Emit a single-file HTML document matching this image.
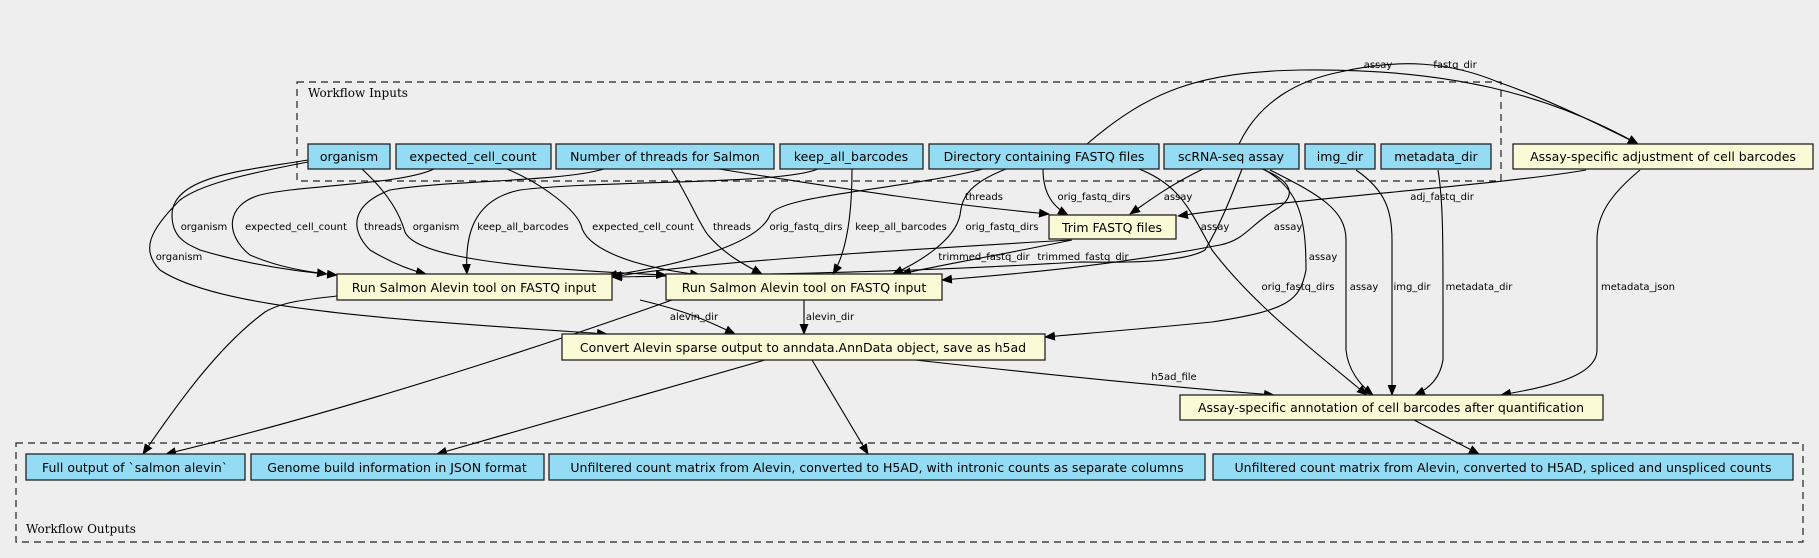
<!DOCTYPE html>
<html><head><meta charset="utf-8"><style>
html,body{margin:0;padding:0;background:#eeeeee;}
svg{display:block;}
text{font-family:"DejaVu Sans","Liberation Sans",sans-serif;}
.n{font-size:12.5px;text-anchor:middle;}
.l{font-size:10px;text-anchor:middle;}
.e{fill:none;stroke:#000;stroke-width:1.1;}
.b{fill:#94dcf4;stroke:#222;stroke-width:1.3;}
.y{fill:#fafad6;stroke:#222;stroke-width:1.3;}
</style></head><body>
<svg width="1819" height="558" viewBox="0 0 1819 558" xmlns="http://www.w3.org/2000/svg">
<defs><marker id="a" markerWidth="11" markerHeight="9" refX="10" refY="4.5" orient="auto" markerUnits="userSpaceOnUse"><path d="M0,0 L11,4.5 L0,9 z" fill="#000"/></marker></defs>
<rect x="0" y="0" width="1819" height="558" fill="#eeeeee"/>
<rect x="297" y="82" width="1204" height="99" fill="none" stroke="#222" stroke-width="1.2" stroke-dasharray="7,5"/>
<text x="308" y="97" style="font-family:'DejaVu Serif','Liberation Serif',serif;font-size:12px">Workflow Inputs</text>
<rect x="16" y="443" width="1787" height="99" fill="none" stroke="#222" stroke-width="1.2" stroke-dasharray="7,5"/>
<text x="26" y="533" style="font-family:'DejaVu Serif','Liberation Serif',serif;font-size:12px">Workflow Outputs</text>

<g class="e" marker-end="url(#a)">
<!-- organism -->
<path d="M308,160 C250,170 172,175 172,215 C172,240 190,245 200,250 C250,265 300,272 337,275"/>
<path d="M308,162 C240,175 200,185 180,200 C150,230 140,250 160,270 C220,310 400,320 607,334"/>
<path d="M362,169 C390,195 400,215 405,232 C415,255 500,268 666,275"/>
<!-- expected -->
<path d="M434,169 C400,185 300,185 260,195 C225,205 225,235 250,255 C280,268 310,272 327,274"/>
<path d="M507,169 C545,185 575,210 581,225 C585,245 620,265 700,275"/>
<!-- threads -->
<path d="M604,169 C560,182 450,180 390,190 C350,205 350,230 370,250 C390,262 410,270 426,274"/>
<path d="M671,169 C690,200 700,225 708,235 C725,255 745,265 762,274"/>
<path d="M719,169 C850,190 950,205 1049,214"/>
<!-- keep_all -->
<path d="M818,169 C780,185 600,180 520,190 C470,200 465,240 467,274"/>
<path d="M852,169 C852,210 848,250 833,274"/>
<!-- Dir -->
<path d="M983,169 C900,190 780,195 770,215 C760,240 700,262 607,276"/>
<path d="M1006,169 C965,185 962,200 960,215 C955,240 920,262 893,274"/>
<path d="M1043,169 C1043,190 1050,205 1068,215"/>
<path d="M1139,169 C1180,185 1190,210 1212,250 C1250,300 1300,340 1367,395"/>
<path d="M1087,144 C1150,90 1200,72 1300,70 C1450,68 1550,95 1638,144"/>
<!-- scRNA -->
<path d="M1239,144 C1260,100 1300,80 1340,72 C1400,58 1450,62 1498,82 C1550,100 1600,125 1638,144"/>
<path d="M1203,169 C1170,185 1150,200 1130,214"/>
<path d="M1242,169 C1230,200 1220,225 1205,250 C1180,265 1100,262 1080,262 C1020,265 940,272 612,277"/>
<path d="M1262,169 C1290,180 1300,195 1275,210 C1250,225 1245,240 1220,245 C1100,268 1000,275 942,280"/>
<path d="M1265,170 C1300,190 1306,220 1306,270 C1300,300 1290,310 1212,322 C1130,330 1090,333 1045,337"/>
<path d="M1270,170 C1320,195 1346,210 1346,240 L1346,350 C1348,370 1360,385 1373,395"/>
<!-- img/metadata/adj -->
<path d="M1356,170 C1385,190 1392,210 1392,240 L1392,395"/>
<path d="M1438,170 C1443,200 1443,240 1443,300 L1443,360 C1440,378 1430,388 1415,395"/>
<path d="M1640,170 C1610,195 1597,215 1597,240 L1597,350 C1597,378 1540,388 1501,395"/>
<path d="M1586,170 C1500,185 1300,198 1178,216"/>
<!-- Trim -->
<path d="M1070,240 C900,250 700,262 612,277"/>
<path d="M1072,240 C1000,255 940,265 901,274"/>
<!-- Run -->
<path d="M640,300 C690,312 710,322 735,334"/>
<path d="M804,300 L804,334"/>
<path d="M337,296 C300,300 280,303 265,312 C220,345 180,400 143,454"/>
<path d="M672,300 C560,340 350,410 166,454"/>
<!-- Convert -->
<path d="M765,360 L437,454"/>
<path d="M812,360 L868,454"/>
<path d="M915,360 C1050,375 1180,388 1274,395"/>
<path d="M1414,420 L1479,454"/>
</g>

<g class="l">
<text x="204" y="230">organism</text>
<text x="296" y="230">expected_cell_count</text>
<text x="383" y="230">threads</text>
<text x="436" y="230">organism</text>
<text x="523" y="230">keep_all_barcodes</text>
<text x="643" y="230">expected_cell_count</text>
<text x="732" y="230">threads</text>
<text x="806" y="230">orig_fastq_dirs</text>
<text x="901" y="230">keep_all_barcodes</text>
<text x="1002" y="230">orig_fastq_dirs</text>
<text x="179" y="260">organism</text>
<text x="984" y="200">threads</text>
<text x="1094" y="200">orig_fastq_dirs</text>
<text x="1178" y="200">assay</text>
<text x="1442" y="200">adj_fastq_dir</text>
<text x="1215" y="230">assay</text>
<text x="1288" y="230">assay</text>
<text x="1323" y="260">assay</text>
<text x="1298" y="290">orig_fastq_dirs</text>
<text x="1364" y="290">assay</text>
<text x="1412" y="290">img_dir</text>
<text x="1479" y="290">metadata_dir</text>
<text x="1638" y="290">metadata_json</text>
<text x="1378" y="68">assay</text>
<text x="1455" y="68">fastq_dir</text>
<text x="984" y="260">trimmed_fastq_dir</text>
<text x="1083" y="260">trimmed_fastq_dir</text>
<text x="694" y="320">alevin_dir</text>
<text x="830" y="320">alevin_dir</text>
<text x="1174" y="380">h5ad_file</text>
</g>

<g>
<rect class="b" x="308" y="144" width="82" height="25"/><text class="n" x="349" y="161">organism</text>
<rect class="b" x="396" y="144" width="155" height="25"/><text class="n" x="473" y="161">expected_cell_count</text>
<rect class="b" x="556" y="144" width="218" height="25"/><text class="n" x="665" y="161">Number of threads for Salmon</text>
<rect class="b" x="780" y="144" width="143" height="25"/><text class="n" x="851" y="161">keep_all_barcodes</text>
<rect class="b" x="929" y="144" width="230" height="25"/><text class="n" x="1044" y="161">Directory containing FASTQ files</text>
<rect class="b" x="1164" y="144" width="135" height="25"/><text class="n" x="1231" y="161">scRNA-seq assay</text>
<rect class="b" x="1305" y="144" width="70" height="25"/><text class="n" x="1340" y="161">img_dir</text>
<rect class="b" x="1381" y="144" width="110" height="25"/><text class="n" x="1436" y="161">metadata_dir</text>
<rect class="y" x="1513" y="144" width="300" height="25"/><text class="n" x="1663" y="161">Assay-specific adjustment of cell barcodes</text>
<rect class="y" x="1049" y="215" width="127" height="24"/><text class="n" x="1112" y="232">Trim FASTQ files</text>
<rect class="y" x="337" y="274" width="275" height="26"/><text class="n" x="474" y="292">Run Salmon Alevin tool on FASTQ input</text>
<rect class="y" x="666" y="274" width="276" height="26"/><text class="n" x="804" y="292">Run Salmon Alevin tool on FASTQ input</text>
<rect class="y" x="562" y="334" width="483" height="26"/><text class="n" x="803" y="352">Convert Alevin sparse output to anndata.AnnData object, save as h5ad</text>
<rect class="y" x="1180" y="395" width="423" height="25"/><text class="n" x="1391" y="412">Assay-specific annotation of cell barcodes after quantification</text>
<rect class="b" x="26" y="454" width="219" height="26"/><text class="n" x="135" y="472">Full output of `salmon alevin`</text>
<rect class="b" x="251" y="454" width="293" height="26"/><text class="n" x="397" y="472">Genome build information in JSON format</text>
<rect class="b" x="549" y="454" width="656" height="26"/><text class="n" x="877" y="472">Unfiltered count matrix from Alevin, converted to H5AD, with intronic counts as separate columns</text>
<rect class="b" x="1213" y="454" width="580" height="26"/><text class="n" x="1503" y="472">Unfiltered count matrix from Alevin, converted to H5AD, spliced and unspliced counts</text>
</g>
</svg>
</body></html>
